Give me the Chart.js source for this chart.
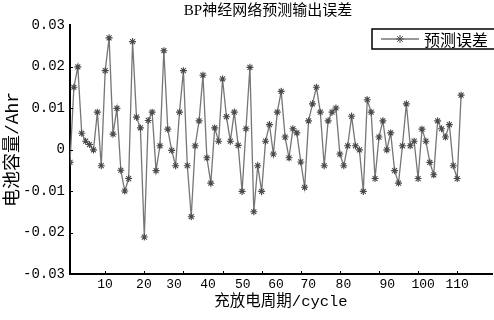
<!doctype html>
<html lang="zh">
<head>
<meta charset="utf-8">
<title>BP神经网络预测输出误差</title>
<script src="https://cdn.jsdelivr.net/npm/chart.js@4.4.1/dist/chart.umd.min.js"></script>
<style>
  html, body { margin: 0; padding: 0; background: #fff; overflow: hidden; }
  .wrap { position: relative; width: 536px; height: 320px; }
</style>
</head>
<body>
<div class="wrap"><canvas id="chart"></canvas></div>
<script>
// prediction error per sample
const errors = [
  -0.0031, 0.0150, 0.0199, 0.0039, 0.0020, 0.0012, -0.0001, 0.0090, -0.0039, 0.0190,
  0.0269, 0.0037, 0.0099, -0.0050, -0.0100, -0.0070, 0.0260, 0.0078, 0.0052, -0.0211,
  0.0070, 0.0090, -0.0051, 0.0009, 0.0238, 0.0049, -0.0002, -0.0039, 0.0090, 0.0190,
  -0.0039, -0.0162, 0.0009, 0.0069, 0.0179, -0.0020, -0.0081, 0.0052, 0.0020, 0.0170,
  0.0079, 0.0020, 0.0090, 0.0010, -0.0101, 0.0050, 0.0198, -0.0150, -0.0039, -0.0101,
  0.0020, 0.0060, -0.0011, 0.0090, 0.0140, 0.0030, -0.0020, 0.0050, 0.0040, -0.0030,
  -0.0091, 0.0069, 0.0110, 0.0150, 0.0090, -0.0039, 0.0069, 0.0090, 0.0100, -0.0011,
  -0.0039, 0.0009, 0.0080, 0.0009, -0.0001, -0.0101, 0.0120, 0.0090, -0.0070, 0.0030,
  0.0069, -0.0001, 0.0040, -0.0051, -0.0081, 0.0009, 0.0110, 0.0009, 0.0020, -0.0070,
  0.0049, 0.0020, -0.0031, -0.0061, 0.0069, 0.0050, 0.0030, 0.0060, -0.0039, -0.0070,
  0.0131
];
const samples = errors.map((_, i) => i + 1);

// x tick labels as printed, and where they sit along the sample axis
const xTickLabels = ['10', '20', '30', '40', '50', '60', '70', '80', '90', '100', '110'];
const xTickAt = [9.95, 19.9, 27.6, 36.3, 45.2, 53.7, 61.9, 70.9, 82.1, 91.3, 100];
const xTickMarks = [10, 20, 30, 40, 50, 60, 70, 80, 90, 100];
const yTicks = [-0.03, -0.02, -0.01, 0, 0.01, 0.02, 0.03];

const seriesName = '预测误差';
const MONO = "'Liberation Mono', 'Noto Sans CJK SC', monospace";
const LINE_COLOR = '#767676';
const MARK_COLOR = '#4a4a4a';

const innerTicks = {
  id: 'innerTicks',
  afterDatasetsDraw(chart) {
    const { ctx, chartArea, scales } = chart;
    ctx.save();
    ctx.strokeStyle = '#000';
    ctx.lineWidth = 1;
    xTickMarks.forEach(v => {
      const px = Math.round(scales.x.getPixelForValue(v)) + 0.5;
      ctx.beginPath();
      ctx.moveTo(px, chartArea.bottom);
      ctx.lineTo(px, chartArea.bottom - 3);
      ctx.stroke();
    });
    yTicks.slice(1, -1).forEach(v => {
      const py = Math.round(scales.y.getPixelForValue(v)) + 0.5;
      ctx.beginPath();
      ctx.moveTo(chartArea.left, py);
      ctx.lineTo(chartArea.left + 3, py);
      ctx.stroke();
    });
    ctx.restore();
  }
};

// boxed legend in the upper right, line + marker sample like the original
const boxLegend = {
  id: 'boxLegend',
  afterDraw(chart) {
    const { ctx } = chart;
    const x0 = 372, y0 = 29, w = 132, h = 20;
    const cy = y0 + h / 2;
    ctx.save();
    ctx.fillStyle = '#fff';
    ctx.fillRect(x0, y0, w, h);
    ctx.strokeStyle = '#000';
    ctx.lineWidth = 1.5;
    ctx.strokeRect(x0, y0, w, h);
    ctx.strokeStyle = LINE_COLOR;
    ctx.lineWidth = 1.3;
    ctx.beginPath();
    ctx.moveTo(381, cy);
    ctx.lineTo(419, cy);
    ctx.stroke();
    ctx.strokeStyle = MARK_COLOR;
    ctx.lineWidth = 1;
    Chart.helpers.drawPoint(ctx, { pointStyle: 'star', radius: 4, rotation: 0, borderWidth: 1 }, 400, cy);
    ctx.fillStyle = '#000';
    ctx.font = "16px 'Noto Sans CJK SC'";
    ctx.textBaseline = 'middle';
    ctx.fillText(seriesName, 424, cy + 1);
    ctx.restore();
  }
};

new Chart(document.getElementById('chart'), {
  type: 'line',
  data: {
    datasets: [{
      label: seriesName,
      data: errors.map((v, i) => ({ x: samples[i], y: v })),
      borderColor: LINE_COLOR,
      borderWidth: 1.3,
      pointStyle: 'star',
      pointRadius: 3.5,
      pointBorderColor: MARK_COLOR,
      pointBorderWidth: 1.1,
      pointBackgroundColor: MARK_COLOR,
      tension: 0,
      fill: false,
    }],
  },
  options: {
    responsive: true,
    maintainAspectRatio: false,
    animation: false,
    layout: { padding: 0 },
    plugins: {
      legend: { display: false },
      tooltip: { enabled: false },
      title: {
        display: true,
        text: 'BP神经网络预测输出误差',
        color: '#000',
        font: { family: "'Liberation Serif', 'Noto Sans CJK SC'", size: 15, weight: 'normal' },
        padding: { top: 2, bottom: 5 },
      },
    },
    scales: {
      x: {
        type: 'linear',
        min: 1,
        max: 108.9,
        grid: { display: false, drawTicks: false },
        border: { display: true, color: '#000', width: 2 },
        afterBuildTicks(scale) {
          scale.ticks = xTickAt.map(v => ({ value: v }));
        },
        afterFit(scale) { scale.height = 46; },
        ticks: {
          autoSkip: false,
          maxRotation: 0,
          padding: 3,
          color: '#000',
          font: { family: MONO, size: 13 },
          callback: (v, i) => xTickLabels[i],
        },
        title: {
          display: true,
          text: '充放电周期/cycle',
          color: '#000',
          font: { family: MONO, size: 15.5 },
          padding: { top: 0, bottom: 9 },
        },
      },
      y: {
        min: -0.03,
        max: 0.03,
        grid: { display: false, drawTicks: false },
        border: { display: true, color: '#000', width: 2 },
        afterBuildTicks(scale) {
          scale.ticks = yTicks.map(v => ({ value: v }));
        },
        afterFit(scale) { scale.width = 70; },
        ticks: {
          padding: 5,
          color: '#000',
          font: { family: MONO, size: 14 },
          callback: v => (v === 0 ? '0' : v.toFixed(2)),
        },
        title: {
          display: true,
          text: '电池容量/Ahr',
          color: '#000',
          font: { family: MONO, size: 18 },
          padding: { top: 2, bottom: 0 },
        },
      },
      // empty strip on the right so the plot ends where the original does
      spacer: {
        type: 'linear',
        position: 'right',
        display: true,
        grid: { display: false, drawTicks: false },
        border: { display: false },
        ticks: { display: false },
        afterFit(scale) { scale.width = 44; },
      },
    },
  },
  plugins: [innerTicks, boxLegend],
});
</script>
</body>
</html>
